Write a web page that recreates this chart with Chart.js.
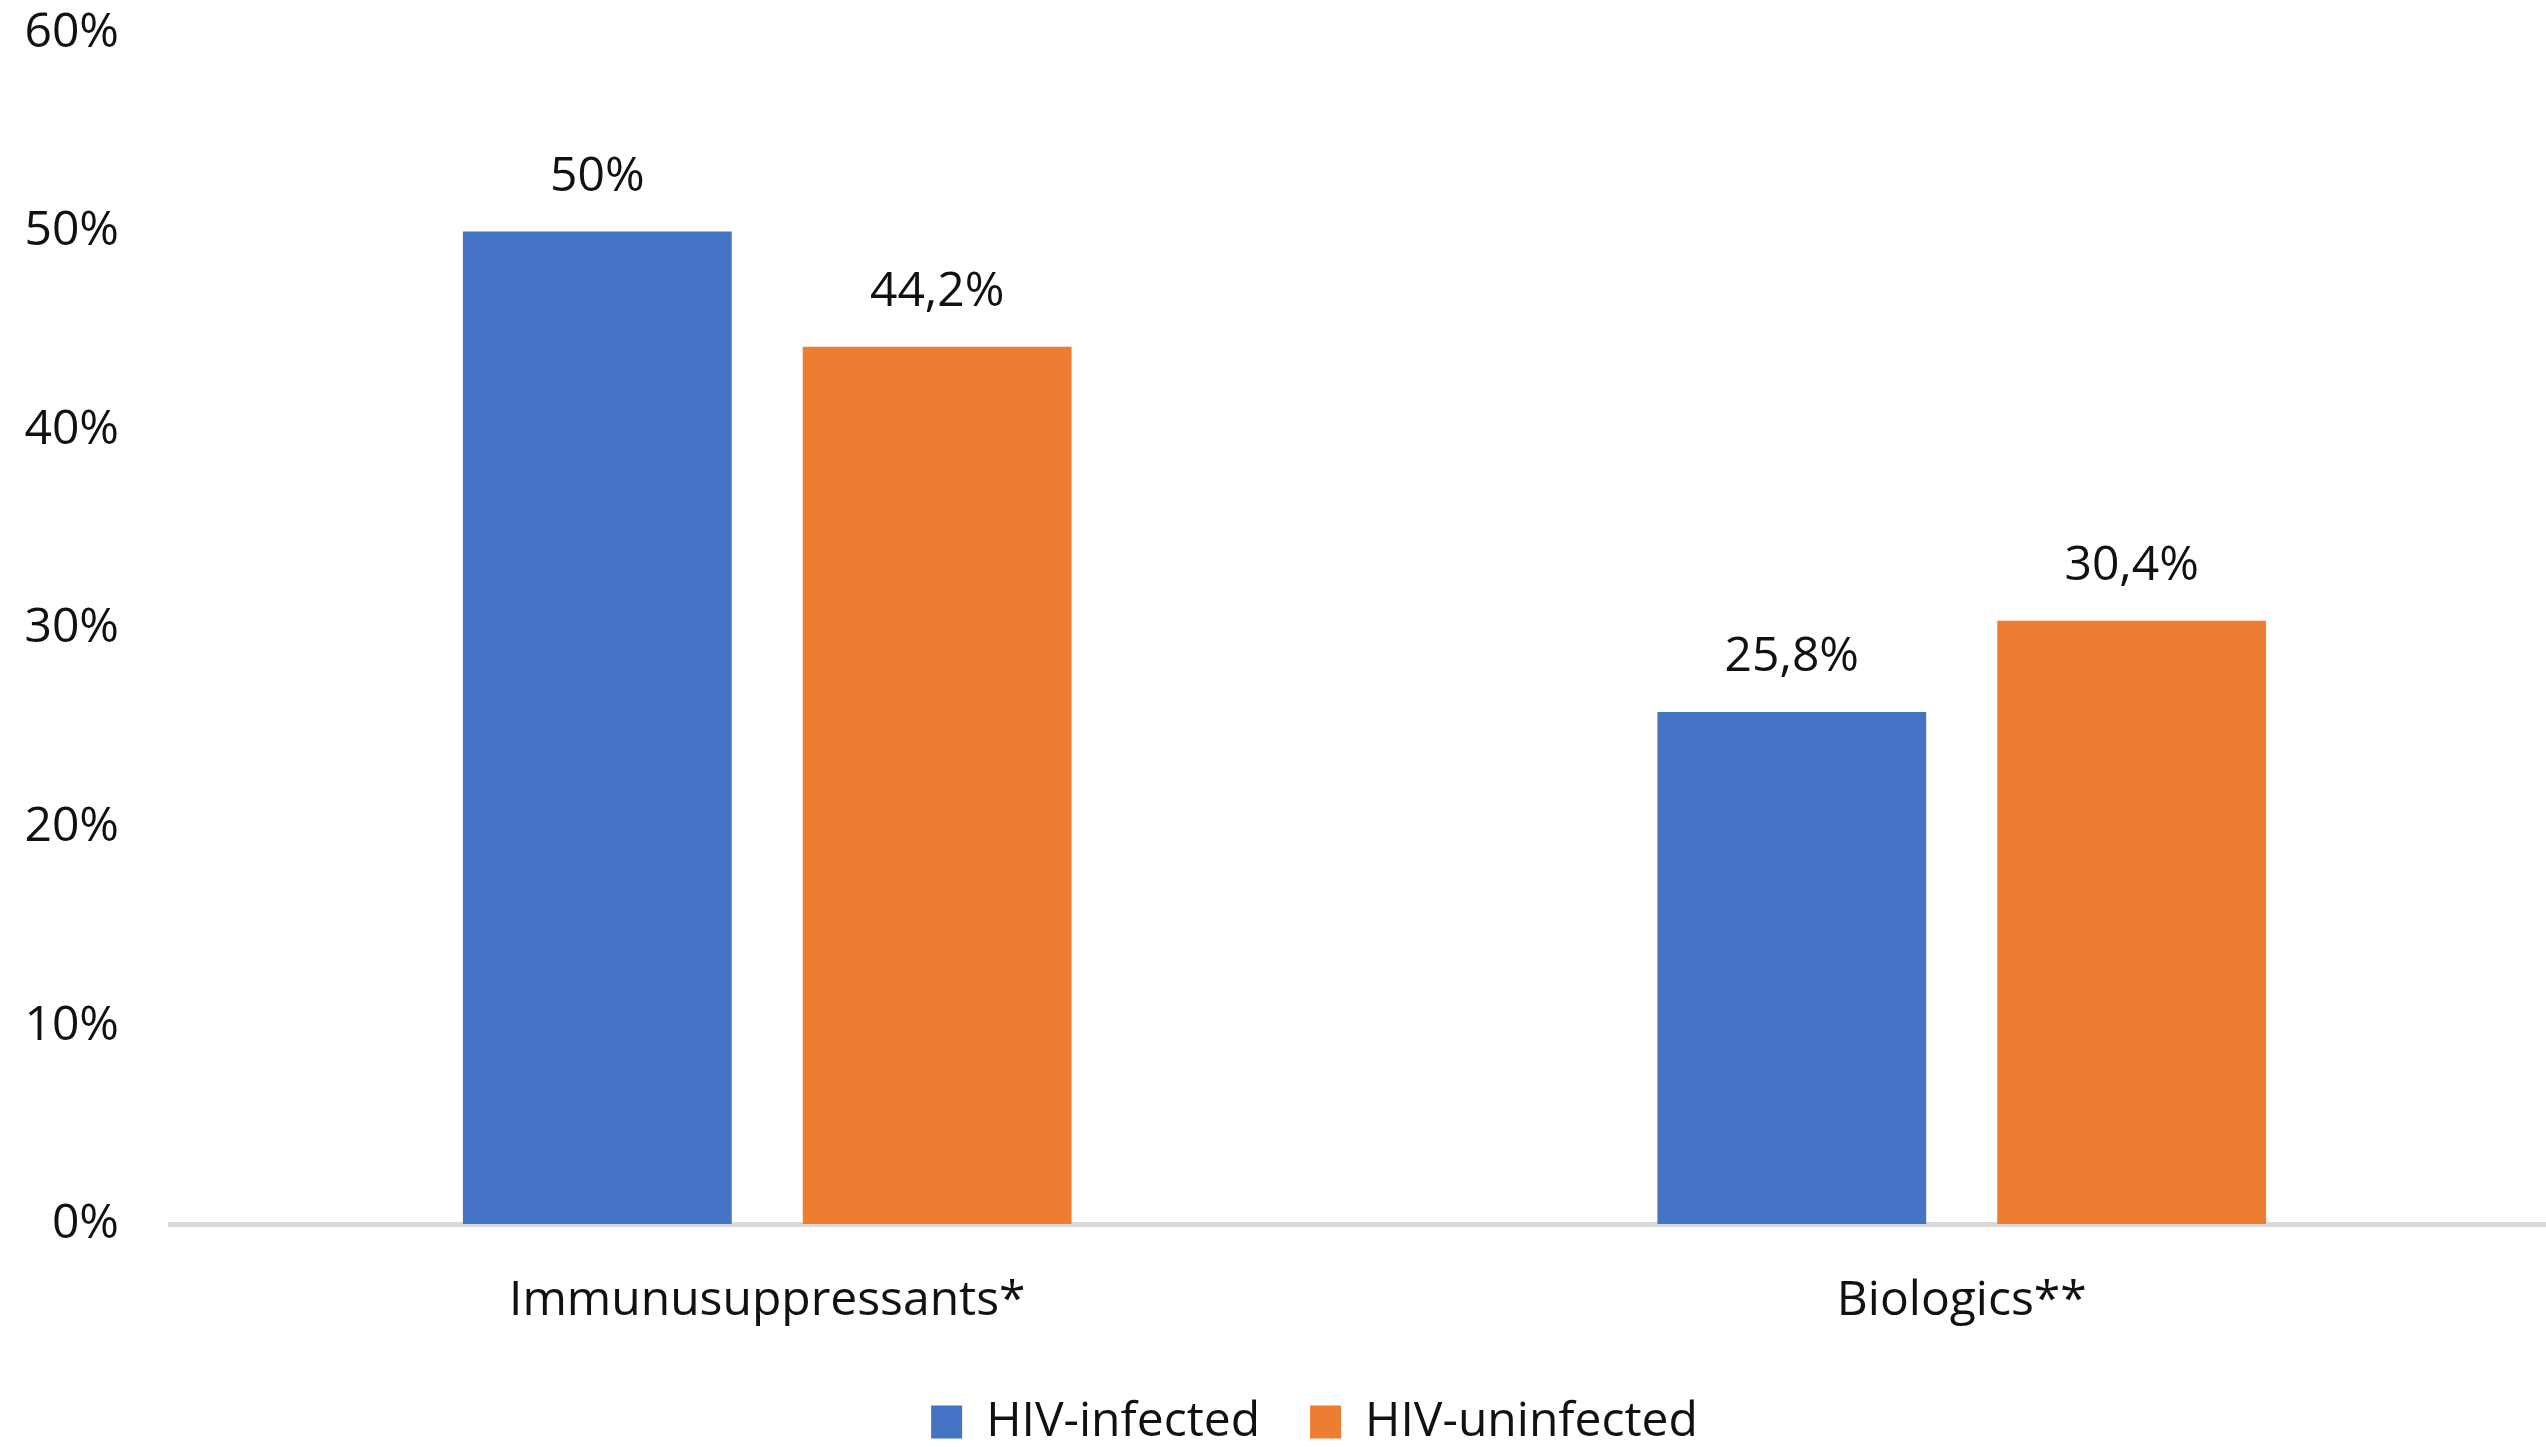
<!DOCTYPE html>
<html>
<head>
<meta charset="utf-8">
<script src="https://cdn.jsdelivr.net/npm/chart.js@4.4.0/dist/chart.umd.min.js"></script>
<style>
  html, body { margin: 0; padding: 0; background: #fff; overflow: hidden; }
  #wrap { width: 2560px; height: 1486px; }
</style>
</head>
<body>
<div id="wrap"><canvas id="chart-hiv"></canvas></div>
<script>
const categories = ['Immunusuppressants*', 'Biologics**']
const hivInfected = [50, 25.8]
const hivUninfected = [44.2, 30.4]
const seriesLabels = ['HIV-infected', 'HIV-uninfected']
const yTickStep = 10
const yMax = 60

const fmt = (v) => String(v).replace('.', ',') + '%'

// value labels above bars
const barValues = {
  id: 'barValues',
  afterDatasetsDraw(chart) {
    const ctx = chart.ctx
    ctx.save()
    ctx.font = '48px "Open Sans"'
    ctx.fillStyle = '#111'
    ctx.textAlign = 'center'
    ctx.textBaseline = 'alphabetic'
    chart.data.datasets.forEach((ds, i) => {
      chart.getDatasetMeta(i).data.forEach((bar, j) => {
        ctx.fillText(fmt(ds.data[j]), bar.x, bar.y - 41)
      })
    })
    ctx.restore()
  }
}

// nudge the legend to where the original sits
const legendShift = {
  id: 'legendShift',
  afterLayout(chart) {
    const lg = chart.legend
    lg.left += 35
    lg.right += 35
    lg.top -= 30
    lg.bottom -= 30
  }
}

const ctx = document.getElementById('chart-hiv').getContext('2d')

const data = {
  labels: categories,
  datasets: [
    {
      label: seriesLabels[0],
      data: hivInfected,
      backgroundColor: '#4472C4',
      borderWidth: 0,
    },
    {
      label: seriesLabels[1],
      data: hivUninfected,
      backgroundColor: '#ED7D31',
      borderWidth: 0,
    },
  ],
}

const config = {
  type: 'bar',
  data: data,
  options: {
    responsive: true,
    maintainAspectRatio: false,
    animation: false,
    categoryPercentage: 0.569,
    barPercentage: 0.791,
    layout: { padding: { top: 33, right: 1, left: 0, bottom: 0 } },
    plugins: {
      legend: {
        position: 'bottom',
        labels: {
          boxWidth: 31,
          boxHeight: 33,
          padding: 50,
          color: '#111',
          font: { family: 'Open Sans', size: 48 },
        },
      },
      tooltip: { enabled: false },
    },
    scales: {
      x: {
        grid: { display: false, drawTicks: false },
        border: { display: true, color: '#d9d9d9', width: 5 },
        ticks: {
          color: '#111',
          padding: 48,
          font: { family: 'Open Sans', size: 48 },
        },
      },
      y: {
        min: 0,
        max: yMax,
        grid: {
          display: true,
          drawOnChartArea: false,
          drawTicks: true,
          tickLength: 51,
          color: 'rgba(0,0,0,0)',
        },
        border: { display: false },
        ticks: {
          stepSize: yTickStep,
          color: '#111',
          padding: 0,
          font: { family: 'Open Sans', size: 48 },
          callback: (v) => v + '%',
        },
        afterFit: (axis) => { axis.width = 170 },
      },
    },
  },
  plugins: [barValues, legendShift],
}

const myChart = new Chart(ctx, config)
</script>
</body>
</html>
